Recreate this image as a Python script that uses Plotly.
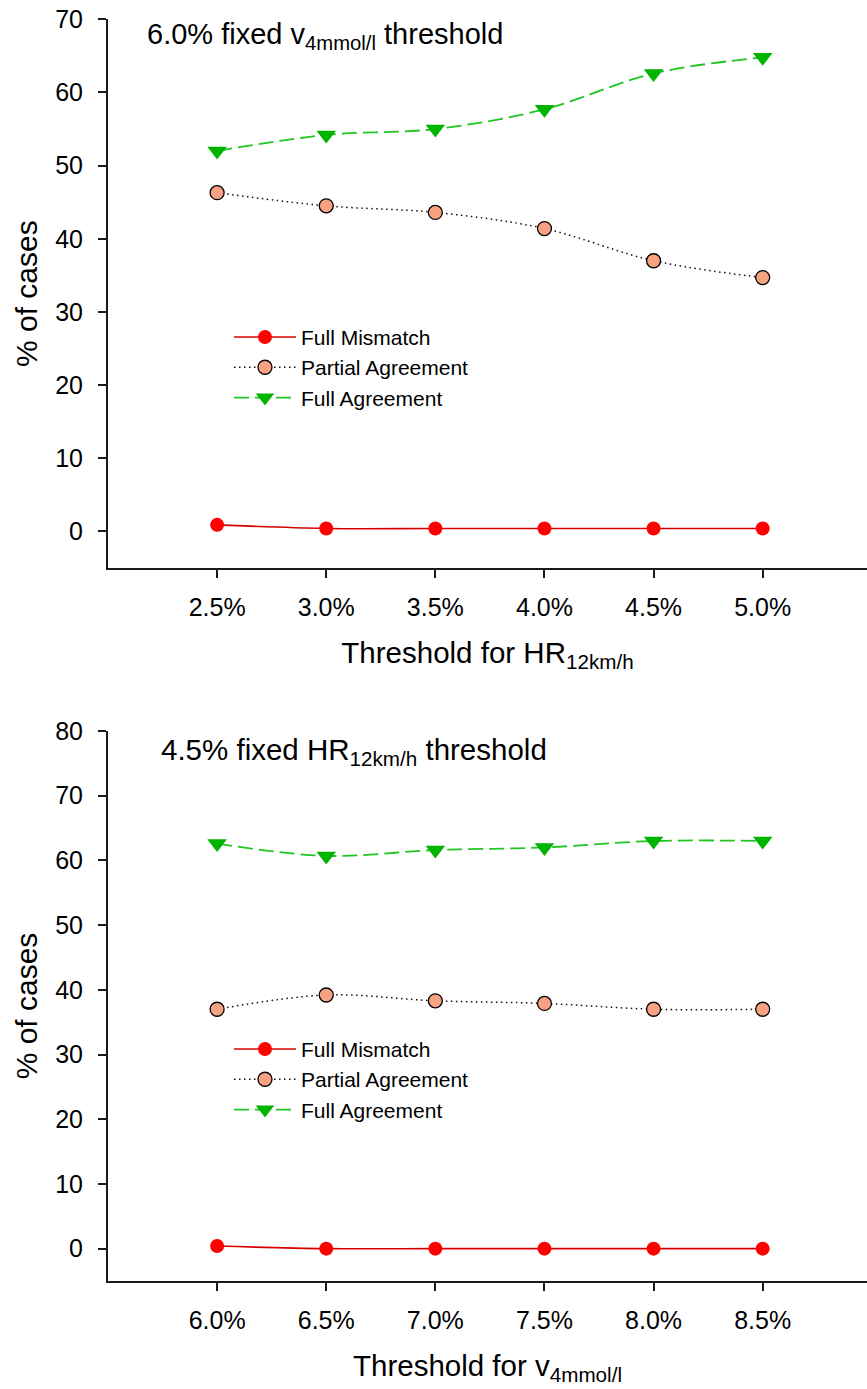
import plotly.graph_objects as go

# Top panel: 6.0% fixed v4mmol/l threshold, varying HR12km/h threshold
hr_thresholds = [2.5, 3.0, 3.5, 4.0, 4.5, 5.0]
hr_ticktext = ["2.5%", "3.0%", "3.5%", "4.0%", "4.5%", "5.0%"]
hr_full_mismatch = [0.9, 0.4, 0.4, 0.4, 0.4, 0.4]
hr_partial_agreement = [46.3, 44.5, 43.6, 41.4, 37.0, 34.7]
hr_full_agreement = [52.0, 54.2, 55.0, 57.7, 62.6, 64.8]

# Bottom panel: 4.5% fixed HR12km/h threshold, varying v4mmol/l threshold
v_thresholds = [6.0, 6.5, 7.0, 7.5, 8.0, 8.5]
v_ticktext = ["6.0%", "6.5%", "7.0%", "7.5%", "8.0%", "8.5%"]
v_full_mismatch = [0.4, 0.0, 0.0, 0.0, 0.0, 0.0]
v_partial_agreement = [37.0, 39.2, 38.3, 37.9, 37.0, 37.0]
v_full_agreement = [62.6, 60.7, 61.6, 62.0, 63.0, 63.0]

W, H = 867, 1389
FONT = "Arial, Liberation Sans, sans-serif"


def px_x(p):
    return p / W


def px_y(p):
    return 1 - p / H


series_style = [
    dict(name="Full Mismatch",
         line=dict(color="#d40000", width=1.6, shape="spline", dash="solid"),
         marker=dict(symbol="circle", size=14, color="#ff0000",
                     line=dict(width=0))),
    dict(name="Partial Agreement",
         line=dict(color="#111111", width=1.5, shape="spline", dash="1.5px,3.5px"),
         marker=dict(symbol="circle", size=14, color="#f7a283",
                     line=dict(color="#000000", width=1.3))),
    dict(name="Full Agreement",
         line=dict(color="#22c422", width=1.8, shape="spline", dash="15px,6px"),
         marker=dict(symbol="triangle-down", size=17, color="#00b400",
                     line=dict(width=0))),
]

fig = go.Figure()

panels = [
    (hr_thresholds, [hr_full_mismatch, hr_partial_agreement, hr_full_agreement],
     "x", "y", "legend"),
    (v_thresholds, [v_full_mismatch, v_partial_agreement, v_full_agreement],
     "x2", "y2", "legend2"),
]
for xs, ys_list, xa, ya, lg in panels:
    for ys, st in zip(ys_list, series_style):
        fig.add_trace(go.Scatter(
            x=xs, y=ys, mode="lines+markers", name=st["name"],
            line=st["line"], marker=st["marker"],
            xaxis=xa, yaxis=ya, legend=lg, cliponaxis=False,
        ))

axis_common = dict(
    showline=True, linecolor="#1a1a1a", linewidth=2,
    ticks="outside", ticklen=8, tickwidth=1.5, tickcolor="#1a1a1a",
    showgrid=False, zeroline=False, mirror=False, automargin=False,
    tickfont=dict(family=FONT, size=25, color="#000000"),
)

x_domain = [px_x(108), 1.0]
top_domain = [px_y(568), px_y(19.3)]
bot_domain = [px_y(1281), px_y(731)]

legend_common = dict(
    xanchor="left", yanchor="middle", bgcolor="rgba(0,0,0,0)",
    itemwidth=62, tracegroupgap=0,
    font=dict(family=FONT, size=21, color="#000000"),
)

fig.update_layout(
    width=W, height=H,
    margin=dict(l=0, r=0, t=0, b=0),
    paper_bgcolor="white", plot_bgcolor="white",
    font=dict(family=FONT, color="#000000"),
    xaxis=dict(axis_common, domain=x_domain, anchor="y",
               range=[2.0, 5.478], tickvals=hr_thresholds, ticktext=hr_ticktext,
               ticklabelstandoff=8,
               title=dict(text="Threshold for HR<sub>12km/h</sub>",
                          font=dict(family=FONT, size=29.5), standoff=22)),
    yaxis=dict(axis_common, domain=top_domain, anchor="x",
               range=[-5, 70], tickvals=[0, 10, 20, 30, 40, 50, 60, 70],
               ticklabelstandoff=10,
               title=dict(text="% of cases",
                          font=dict(family=FONT, size=30), standoff=9)),
    xaxis2=dict(axis_common, domain=x_domain, anchor="y2",
                range=[5.5, 8.978], tickvals=v_thresholds, ticktext=v_ticktext,
                ticklabelstandoff=8,
                title=dict(text="Threshold for v<sub>4mmol/l</sub>",
                           font=dict(family=FONT, size=29.5), standoff=22)),
    yaxis2=dict(axis_common, domain=bot_domain, anchor="x2",
                range=[-5, 80], tickvals=[0, 10, 20, 30, 40, 50, 60, 70, 80],
                ticklabelstandoff=10,
                title=dict(text="% of cases",
                           font=dict(family=FONT, size=30), standoff=9)),
    legend=dict(legend_common, x=px_x(229), y=px_y(367.3)),
    legend2=dict(legend_common, x=px_x(229), y=px_y(1079.3)),
    showlegend=True,
    annotations=[
        dict(text="6.0% fixed v<sub>4mmol/l</sub> threshold",
             x=px_x(145), y=px_y(36), xref="paper", yref="paper",
             xanchor="left", yanchor="middle", showarrow=False,
             font=dict(family=FONT, size=29, color="#000000")),
        dict(text="4.5% fixed HR<sub>12km/h</sub> threshold",
             x=px_x(159), y=px_y(751), xref="paper", yref="paper",
             xanchor="left", yanchor="middle", showarrow=False,
             font=dict(family=FONT, size=29.5, color="#000000")),
    ],
)

fig.write_html("out.html")
